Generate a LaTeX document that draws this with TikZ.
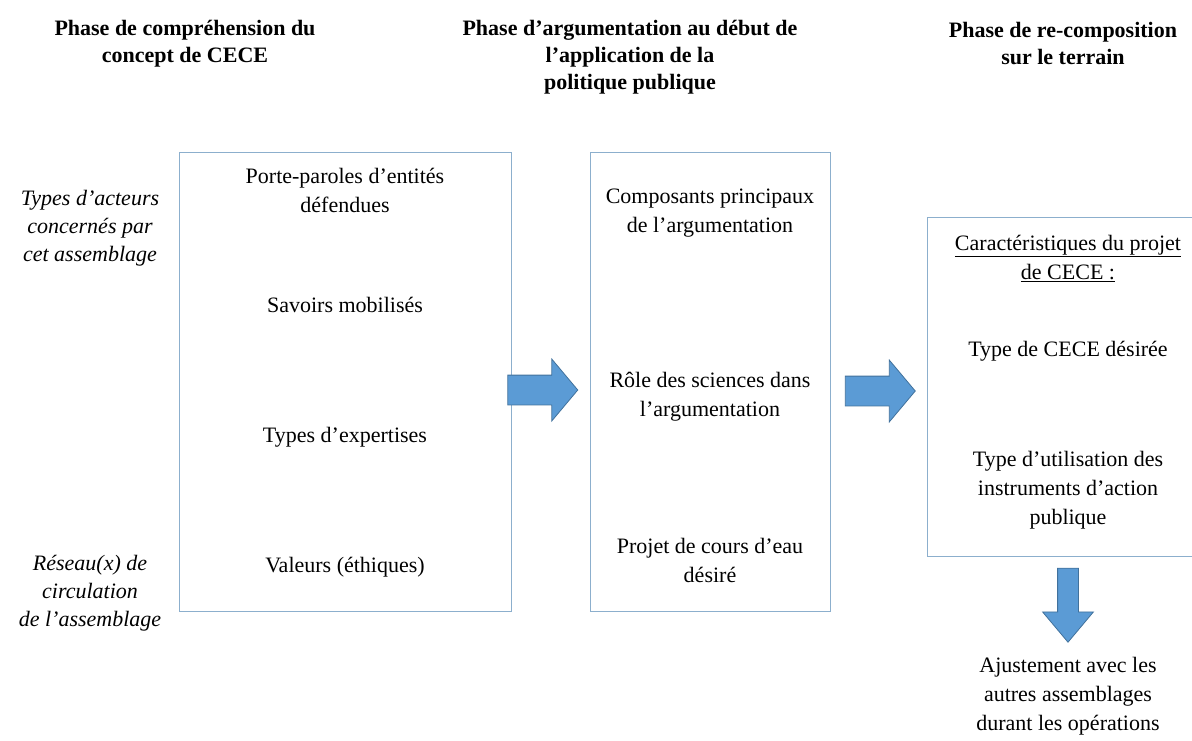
\documentclass[tikz,border=0pt]{standalone}
\usepackage{fontspec}
\setmainfont{Liberation Serif}
\usetikzlibrary{positioning,shapes.arrows}

\definecolor{boxline}{RGB}{140,175,205}
\definecolor{arrowfill}{RGB}{91,155,213}
\definecolor{arrowline}{RGB}{65,113,156}

\begin{document}
\begin{tikzpicture}[x=1pt, y=-1pt,
    frame/.style={rectangle, draw=boxline, line width=0.9pt},
    txt/.style={align=center, font=\fontsize{22}{29}\selectfont},
    phase/.style={align=center, font=\bfseries\fontsize{22}{27}\selectfont},
    side/.style={align=center, font=\itshape\fontsize{22}{28}\selectfont},
    bigarrow/.style={single arrow, draw=arrowline, fill=arrowfill, line width=0.8pt,
        inner sep=14.5pt, single arrow head extend=16pt, single arrow tip angle=100,
        minimum height=70pt}]

    \useasboundingbox (0,0) rectangle (1192,740);
    \clip (0,0) rectangle (1192,740);

    % Phase titles
    \node[phase] (t_comp) at (185,43.5) {Phase de compréhension du\\concept de CECE};
    \node[phase] (t_arg) at (630,57) {Phase d’argumentation au début de\\l’application de la\\politique publique};
    \node[phase] (t_terrain) at (1063,43.5) {Phase de re-composition\\sur le terrain};

    % Side labels
    \node[side] (acteurs) at (90,228) {Types d’acteurs\\concernés par\\cet assemblage};
    \node[side] (reseau) at (90,593) {Réseau(x) de\\circulation\\de l’assemblage};

    % Boxes
    \node[frame, minimum width=332pt, minimum height=459pt] (comp) at (345,381.5) {};
    \node[frame, minimum width=240pt, minimum height=459pt] (arg) at (710,381.5) {};
    \node[frame, minimum width=270pt, minimum height=339pt] (terrain) at (1062,386.5) {};

    % Concept box
    \node[txt] (porte) at (345,190) {Porte-paroles d’entités\\défendues};
    \node[txt] (savoirs) at (345,305) {Savoirs mobilisés};
    \node[txt] (expertises) at (345,437) {Types d’expertises};
    \node[txt] (valeurs) at (345,567) {Valeurs (éthiques)};

    % Argumentation box
    \node[txt] (composants) at (710,213) {Composants principaux\\de l’argumentation};
    \node[txt] (sciences) at (710,397) {Rôle des sciences dans\\l’argumentation};
    \node[txt] (projet) at (710,560) {Projet de cours d’eau\\désiré};

    % Terrain box
    \node[txt] (caract) at (1068,258) {\underline{Caractéristiques du projet}\\\underline{de CECE :}};
    \node[txt] (type) at (1068,351) {Type de CECE désirée};
    \node[txt] (instruments) at (1068,490) {Type d’utilisation des\\instruments d’action\\publique};

    % Block arrows
    \node[bigarrow] (a_comp) at (536.5,390) {};
    \node[bigarrow] (a_arg) at (874,391) {};
    \node[bigarrow, rotate=-90, inner sep=10pt, single arrow head extend=15pt,
        single arrow tip angle=80, minimum height=74pt] (a_down) at (1068,599) {};

    \node[txt] (ajust) at (1068,696) {Ajustement avec les\\autres assemblages\\durant les opérations};
\end{tikzpicture}
\end{document}
